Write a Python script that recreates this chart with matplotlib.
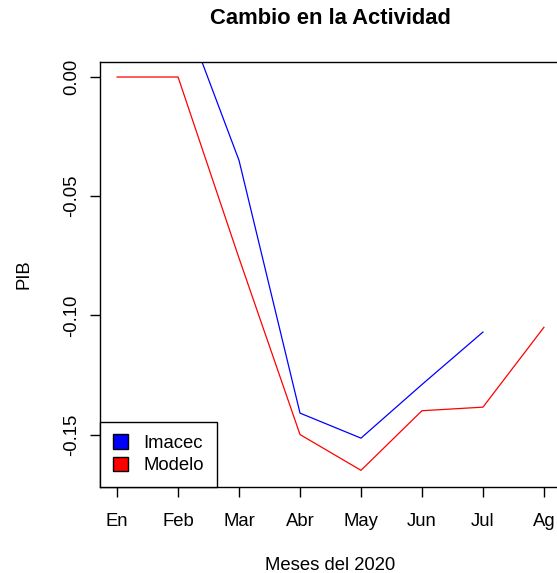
import matplotlib
matplotlib.use("Agg")
import matplotlib.pyplot as plt
from matplotlib.patches import Patch

plt.rcParams.update({
    "font.family": ["Liberation Sans", "DejaVu Sans"],
    "font.size": 13.3,
})

meses = ["En", "Feb", "Mar", "Abr", "May", "Jun", "Jul", "Ag"]
imacec = [0.03, 0.033, -0.035, -0.141, -0.1515, -0.129, -0.107]
modelo = [0.0, 0.0, -0.076, -0.150, -0.165, -0.140, -0.1385, -0.105]

fig = plt.figure(figsize=(5.57, 5.73), dpi=100)
ax = fig.add_axes([100 / 557, 86 / 573, 461 / 557, 425 / 573])

x_imacec = range(1, len(imacec) + 1)
x_modelo = range(1, len(modelo) + 1)
ax.plot(x_imacec, imacec, color="blue", linewidth=0.9)
ax.plot(x_modelo, modelo, color="red", linewidth=0.9)

ax.set_xlim(0.72, 8.28)
ax.set_ylim(-0.172, 0.0063)

ax.set_xticks(range(1, len(meses) + 1))
ax.set_xticklabels(meses)
ax.set_yticks([0.0, -0.05, -0.10, -0.15])
ax.set_yticklabels(["0.00", "-0.05", "-0.10", "-0.15"], rotation=90, va="center")

ax.tick_params(axis="x", direction="out", length=7, width=1, pad=11.5, labelsize=13.3)
ax.tick_params(axis="y", direction="out", length=7, width=1, pad=7, labelsize=13.3)
for s in ax.spines.values():
    s.set_linewidth(1.0)

ax.set_xlabel("Meses del 2020", fontsize=13.3, labelpad=20)
ax.set_ylabel("PIB", fontsize=13.3, labelpad=22)
fig.text(330 / 557, 1 - 19 / 573, "Cambio en la Actividad", ha="center",
         va="center", fontsize=15.8, fontweight="bold")

handles = [Patch(facecolor="blue", edgecolor="black", label="Imacec"),
           Patch(facecolor="red", edgecolor="black", label="Modelo")]
leg = ax.legend(handles=handles, loc="lower left", borderaxespad=0,
                fancybox=False, framealpha=1, edgecolor="black",
                handlelength=0.8, handleheight=0.8, handletextpad=0.85,
                labelspacing=0.25, borderpad=0.7, fontsize=13.3)
leg.get_frame().set_linewidth(1.0)

fig.savefig("out.png", dpi=100, facecolor="white")
